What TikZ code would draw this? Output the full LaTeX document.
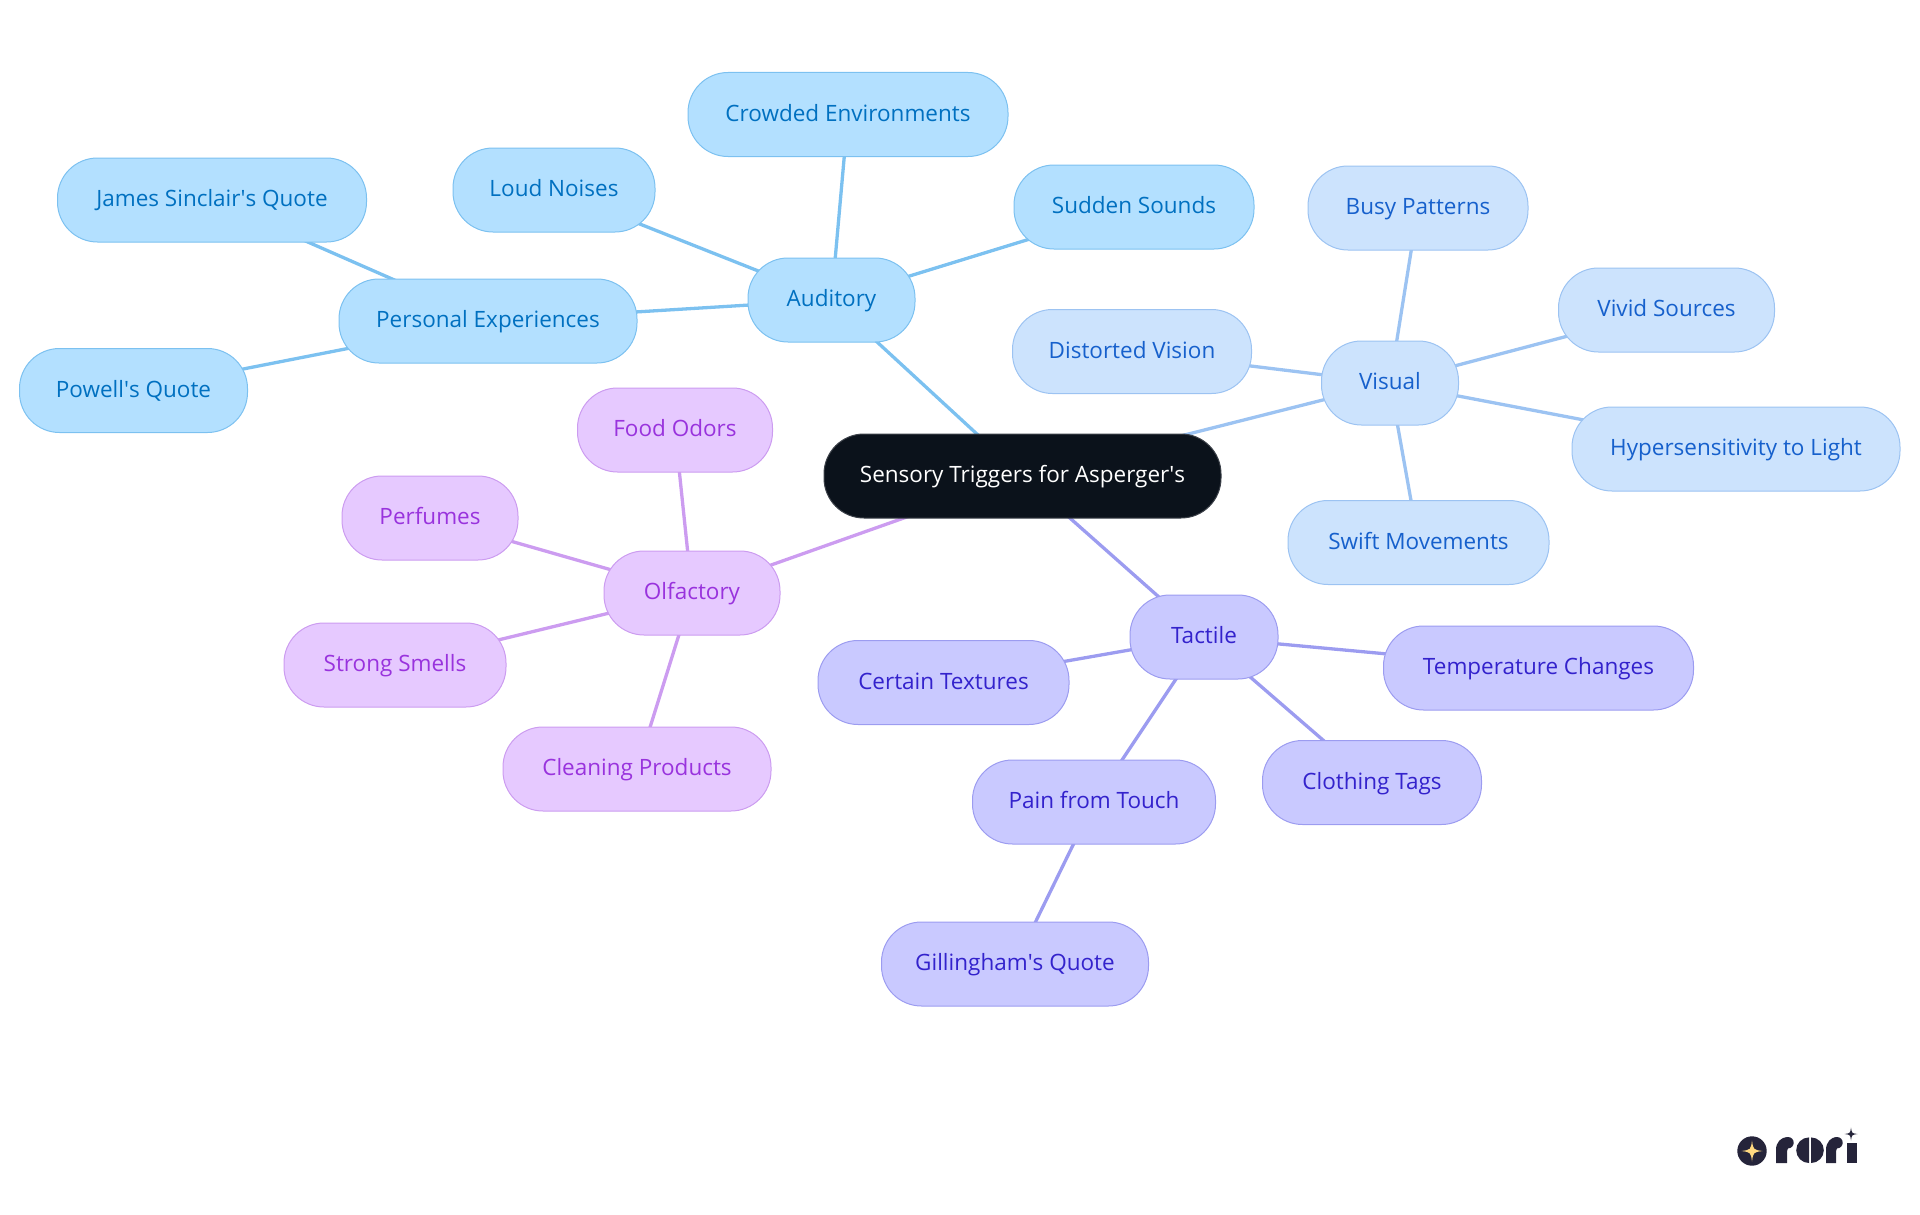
\documentclass[tikz,border=0pt]{standalone}
\usepackage{fontspec}
\setmainfont{Open Sans}
\usetikzlibrary{backgrounds}
\definecolor{rootfill}{HTML}{0B121B}
\definecolor{audfill}{HTML}{B3E0FF}
\definecolor{audline}{HTML}{7CC1F0}
\definecolor{audtext}{HTML}{0070C0}
\definecolor{visfill}{HTML}{CCE3FD}
\definecolor{visline}{HTML}{9CC3F2}
\definecolor{vistext}{HTML}{1660CC}
\definecolor{tacfill}{HTML}{C9C9FF}
\definecolor{tacline}{HTML}{9C9CF0}
\definecolor{tactext}{HTML}{3322CC}
\definecolor{olffill}{HTML}{E6C9FF}
\definecolor{olfline}{HTML}{CC9CF0}
\definecolor{olftext}{HTML}{9933DD}
\definecolor{logodark}{HTML}{25243A}
\definecolor{logostar}{HTML}{FFD980}
\tikzset{
    topic/.style={rounded corners=40pt,minimum height=84pt,inner sep=0pt,line width=1pt,
        text height=18pt,text depth=4.5pt,font=\fontsize{22.5}{28}\selectfont},
    rootnode/.style={topic,fill=rootfill,draw=rootfill!80!white,text=white},
    audnode/.style={topic,fill=audfill,draw=audline,text=audtext},
    visnode/.style={topic,fill=visfill,draw=visline,text=vistext},
    tacnode/.style={topic,fill=tacfill,draw=tacline,text=tactext},
    olfnode/.style={topic,fill=olffill,draw=olfline,text=olftext},
    branch/.style={line width=3.3pt},
    logostarshape/.pic={\fill (0,-1) .. controls (.12,-.12) .. (1,0) .. controls (.12,.12) .. (0,1)
        .. controls (-.12,.12) .. (-1,0) .. controls (-.12,-.12) .. (0,-1) -- cycle;}
}
\begin{document}
\begin{tikzpicture}[x=1pt,y=-1pt]
    \useasboundingbox (0,0) rectangle (1920,1215);

    \node[rootnode,minimum width=397pt] (root) at (1022.5,476) {Sensory Triggers for Asperger\textquotesingle s};

    \node[audnode,minimum width=167pt] (auditory) at (831.5,300) {Auditory};
    \node[audnode,minimum width=320pt] (crowded) at (848,114.5) {Crowded Environments};
    \node[audnode,minimum width=202pt] (loud) at (554,190) {Loud Noises};
    \node[audnode,minimum width=240pt] (sudden) at (1134,207) {Sudden Sounds};
    \node[audnode,minimum width=298pt] (personal) at (488,321) {Personal Experiences};
    \node[audnode,minimum width=309pt] (james) at (212,200) {James Sinclair\textquotesingle s Quote};
    \node[audnode,minimum width=228pt] (powell) at (133.5,390.5) {Powell\textquotesingle s Quote};

    \node[visnode,minimum width=137pt] (visual) at (1390,383) {Visual};
    \node[visnode,minimum width=220pt] (busy) at (1418,208) {Busy Patterns};
    \node[visnode,minimum width=216pt] (vivid) at (1666.5,310) {Vivid Sources};
    \node[visnode,minimum width=239pt] (distorted) at (1132,351.5) {Distorted Vision};
    \node[visnode,minimum width=328pt] (hyper) at (1736,449) {Hypersensitivity to Light};
    \node[visnode,minimum width=261pt] (swift) at (1418.5,542.5) {Swift Movements};

    \node[olfnode,minimum width=176pt] (olfactory) at (692,593) {Olfactory};
    \node[olfnode,minimum width=195pt] (food) at (675,430) {Food Odors};
    \node[olfnode,minimum width=176pt] (perfumes) at (430,518) {Perfumes};
    \node[olfnode,minimum width=222pt] (strong) at (395,665) {Strong Smells};
    \node[olfnode,minimum width=268pt] (cleaning) at (637,769) {Cleaning Products};

    \node[tacnode,minimum width=148pt] (tactile) at (1204,637) {Tactile};
    \node[tacnode,minimum width=251pt] (certain) at (943.5,682.5) {Certain Textures};
    \node[tacnode,minimum width=310pt] (temperature) at (1538.5,668) {Temperature Changes};
    \node[tacnode,minimum width=219pt] (clothing) at (1372,782.5) {Clothing Tags};
    \node[tacnode,minimum width=243pt] (pain) at (1094,802) {Pain from Touch};
    \node[tacnode,minimum width=267pt] (gillingham) at (1015,964) {Gillingham\textquotesingle s Quote};

    % connectors run centre to centre, under the nodes
    \begin{scope}[on background layer]
        \foreach \a/\b in {root/auditory,auditory/crowded,auditory/loud,auditory/sudden,auditory/personal,personal/james,personal/powell}
            \draw[branch,audline] (\a.center) -- (\b.center);
        \foreach \a/\b in {root/visual,visual/busy,visual/vivid,visual/distorted,visual/hyper,visual/swift}
            \draw[branch,visline] (\a.center) -- (\b.center);
        \foreach \a/\b in {root/olfactory,olfactory/food,olfactory/perfumes,olfactory/strong,olfactory/cleaning}
            \draw[branch,olfline] (\a.center) -- (\b.center);
        \foreach \a/\b in {root/tactile,tactile/certain,tactile/temperature,tactile/clothing,tactile/pain,pain/gillingham}
            \draw[branch,tacline] (\a.center) -- (\b.center);
    \end{scope}

    % logo
    \fill[logodark] (1752,1151) circle (14.7);
    \pic[logostar,scale=10.5] at (1752,1151) {logostarshape};
    \fill[logodark] (1776,1163) -- (1776,1150) .. controls (1776,1142) and (1781,1137) .. (1788,1137)
        -- (1788,1148) .. controls (1787,1150) and (1787,1152) .. (1787,1154) -- (1787,1163) -- cycle;
    \fill[logodark] (1788,1142.7) circle (5.7);
    \fill[logodark] (1809,1163) arc (90:270:12.8) -- cycle;
    \fill[logodark] (1811,1163) arc (90:-90:12.8) -- cycle;
    \fill[logodark] (1826,1163) -- (1826,1150) .. controls (1826,1142) and (1831,1137) .. (1837,1137)
        -- (1837,1148) .. controls (1836,1150) and (1836,1152) .. (1836,1154) -- (1836,1163) -- cycle;
    \fill[logodark] (1837,1142.7) circle (5.7);
    \fill[logodark] (1847,1142.7) -- (1857,1142.7) -- (1857,1163) -- (1847,1163) -- cycle;
    \pic[logodark,scale=6.5] at (1851,1134) {logostarshape};
\end{tikzpicture}
\end{document}
